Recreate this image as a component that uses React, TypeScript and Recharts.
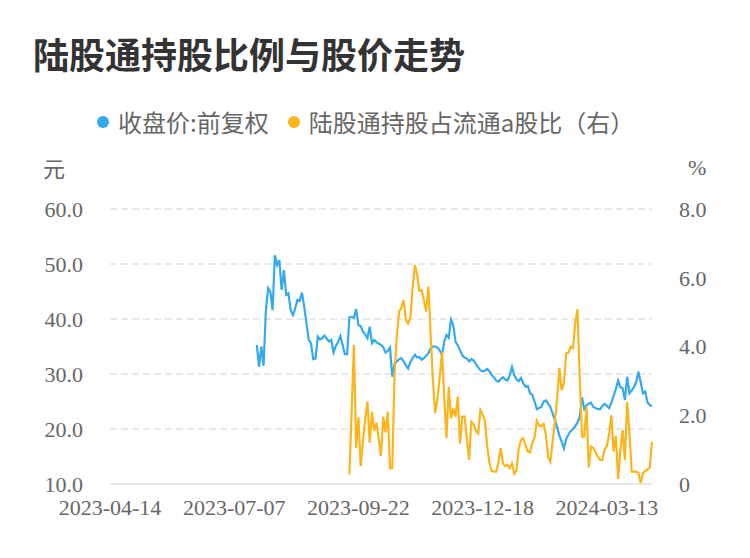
import React from "react";
import { CartesianGrid, Line, LineChart, XAxis, YAxis } from "recharts";

const dateLabels = ["2023-04-14", "2023-07-07", "2023-09-22", "2023-12-18", "2024-03-13"];
const tickStep = 55;
const lastDay = 240;

// 收盘价:前复权, one value per trading day from day 65
const priceStart = 65;
const priceValues = [
  35.3, 31.3, 35.0, 31.5, 41.3, 45.6, 45.0, 41.6, 51.6, 49.8,
  50.7, 45.3, 48.9, 44.4, 44.7, 41.6, 40.7, 41.9, 43.5, 43.3,
  44.8, 42.2, 39.2, 36.2, 35.6, 32.7, 32.8, 36.8, 36.3, 36.5,
  37.0, 36.4, 35.9, 36.2, 33.9, 35.1, 35.8, 36.9, 35.3, 33.6,
  33.6, 40.3, 40.4, 40.2, 41.8, 38.9, 38.7, 37.7, 37.2, 36.5,
  38.6, 35.6, 36.2, 35.8, 35.5, 35.3, 34.9, 33.9, 34.2, 34.8,
  29.5, 31.8, 32.3, 32.7, 32.9, 32.3, 31.6, 31.0, 32.2, 32.9,
  33.5, 33.0, 33.1, 32.6, 32.9, 33.3, 33.8, 34.7, 35.0, 35.0,
  34.8, 34.3, 33.4, 35.9, 37.1, 36.6, 39.9, 38.9, 35.9, 35.2,
  34.3, 33.4, 33.0, 32.8, 32.3, 32.7, 32.5, 31.8, 31.2, 30.7,
  30.5, 30.6, 30.9, 30.5, 29.8, 29.4, 28.8, 28.6, 29.1, 29.4,
  29.0, 28.8, 29.8, 31.3, 29.8, 29.0, 28.7, 29.3, 28.3, 27.7,
  27.8, 26.5, 26.2, 25.0, 23.6, 23.8, 24.0, 25.0, 25.2, 24.6,
  24.0, 22.8, 21.6, 20.3, 18.8, 17.7, 16.5, 18.2, 19.0, 19.6,
  20.0, 20.5, 21.2, 22.2, 25.8, 23.6, 24.3, 24.6, 24.8, 24.0,
  23.8, 23.6, 23.6, 24.2, 24.6, 24.2, 23.8, 24.8, 26.0, 27.3,
  28.8, 27.6, 27.4, 25.3, 29.5, 26.5, 27.0, 27.6, 28.5, 30.4,
  28.5, 26.5, 26.8, 24.8, 24.4, 24.1,
];

// 陆股通持股占流通a股比 (%), from day 106
const shareStart = 106;
const shareValues = [
  0.28, 2.1, 4.04, 1.04, 1.94, 0.52, 1.25, 1.9, 2.4, 1.2,
  2.1, 1.55, 1.78, 1.3, 0.81, 1.96, 1.5, 2.1, 0.46, 0.46,
  3.2, 4.3, 5.01, 5.12, 5.35, 4.77, 4.67, 4.82, 5.7, 6.37,
  6.1, 5.62, 5.64, 5.35, 5.02, 5.74, 4.3, 3.0, 2.06, 2.5,
  3.1, 3.85, 2.54, 1.33, 2.83, 1.91, 2.2, 1.96, 2.54, 1.18,
  1.96, 1.96, 1.33, 0.7, 1.81, 1.74, 1.55, 1.47, 2.15, 2.02,
  1.85, 1.1, 0.62, 0.38, 0.36, 0.36, 0.62, 1.04, 0.6, 0.52,
  0.55, 0.46, 0.6, 0.3, 0.4, 1.04, 1.28, 1.33, 1.12, 0.95,
  0.92, 1.2, 1.35, 1.84, 1.7, 1.68, 1.75, 1.45, 0.79, 0.65,
  1.25, 1.8, 2.5, 3.38, 2.73, 2.93, 3.8, 3.82, 3.99, 3.95,
  4.67, 5.08, 3.1, 1.38, 1.38, 2.25, 0.48, 1.09, 1.05, 0.92,
  0.8, 0.7, 0.7, 1.0, 1.1, 1.45, 2.0, 0.95, 1.4, 0.15,
  1.0, 1.57, 0.7, 2.39, 1.5, 0.36, 0.36, 0.36, 0.32, 0.02,
  0.31, 0.38, 0.42, 0.48, 1.23,
];

const leftTicks = [10, 20, 30, 40, 50, 60];
const rightTicks = [0, 2, 4, 6, 8];

const BLUE = "#33a9ee";
const ORANGE = "#fbb41a";

const rows: Array<{ day: number; price: number; share: number | null }> = [];
for (let d = priceStart; d <= lastDay; d++) {
  rows.push({
    day: d,
    price: priceValues[d - priceStart],
    share: d >= shareStart ? shareValues[d - shareStart] : null,
  });
}

const tickFont = { fontFamily: "Liberation Serif", fontSize: 22, fill: "#666" };
const cjk = "'Noto Sans CJK SC', sans-serif";

export default function App() {
  return (
    <div style={{ position: "absolute", left: 0, top: 0, width: 750, height: 558, background: "#fff" }}>
      <div style={{ position: "absolute", left: 33, top: 35, fontFamily: cjk, fontSize: 36, fontWeight: 700, color: "#333", lineHeight: 1, whiteSpace: "nowrap" }}>
        陆股通持股比例与股价走势
      </div>
      <div style={{ position: "absolute", left: 97, top: 110, display: "flex", alignItems: "center", fontFamily: cjk, fontSize: 24, color: "#666", lineHeight: 1, whiteSpace: "nowrap" }}>
        <span style={{ width: 12, height: 12, borderRadius: 6, background: BLUE, marginRight: 9 }} />
        <span>收盘价:前复权</span>
        <span style={{ width: 12, height: 12, borderRadius: 6, background: ORANGE, marginLeft: 19, marginRight: 9 }} />
        <span>陆股通持股占流通a股比（右）</span>
      </div>
      <div style={{ position: "absolute", left: 43, top: 156, fontFamily: cjk, fontSize: 22, color: "#666", lineHeight: 1 }}>元</div>
      <div style={{ position: "absolute", left: 688, top: 157, fontFamily: "Liberation Serif", fontSize: 22, color: "#666", lineHeight: 1 }}>%</div>
      <div style={{ position: "absolute", left: 0, top: 0 }}>
        <LineChart width={750} height={558} data={rows} margin={{ top: 209, right: 0, bottom: 0, left: 0 }}>
          <CartesianGrid vertical={false} stroke="#e2e2e2" strokeWidth={1.5} strokeDasharray="7 4" yAxisId="left" />
          <XAxis
            dataKey="day"
            type="number"
            domain={[0, lastDay]}
            ticks={dateLabels.map((_, i) => i * tickStep)}
            tickFormatter={(v: number) => dateLabels[Math.round(v / tickStep)]}
            height={74}
            tickLine={false}
            axisLine={{ stroke: "#e6e6e6", strokeWidth: 2 }}
            tick={tickFont}
            tickMargin={9}
            interval={0}
          />
          <YAxis
            yAxisId="left"
            orientation="left"
            domain={[10, 60]}
            ticks={leftTicks}
            tickFormatter={(v: number) => v.toFixed(1)}
            width={110}
            tickLine={false}
            axisLine={false}
            tick={tickFont}
            tickMargin={21}
            interval={0}
          />
          <YAxis
            yAxisId="right"
            orientation="right"
            domain={[0, 8]}
            ticks={rightTicks}
            tickFormatter={(v: number) => (v === 0 ? "0" : v.toFixed(1))}
            width={98}
            tickLine={false}
            axisLine={false}
            tick={{ ...tickFont, textAnchor: "start" }}
            tickMargin={21}
            interval={0}
          />
          <Line yAxisId="left" type="linear" dataKey="price" stroke={BLUE} strokeWidth={2.2} dot={false} isAnimationActive={false} />
          <Line yAxisId="right" type="linear" dataKey="share" stroke={ORANGE} strokeWidth={2.2} dot={false} isAnimationActive={false} />
        </LineChart>
      </div>
    </div>
  );
}
